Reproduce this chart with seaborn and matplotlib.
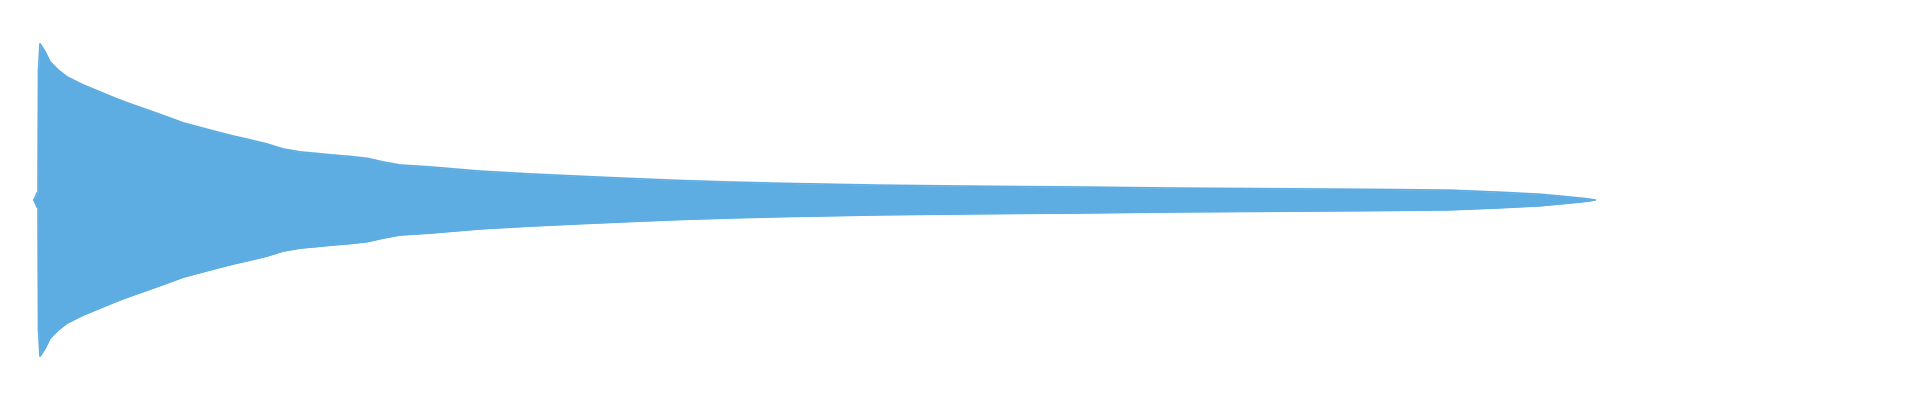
import numpy as np
import pandas as pd
import matplotlib
matplotlib.use("Agg")
import matplotlib.pyplot as plt
import seaborn as sns

# Огинаюча хвильової форми: час, с та амплітуда
time_s = [0.34, 0.37, 0.38, 0.385, 0.40, 0.45, 0.50, 0.58, 0.67, 0.83,
          1.00, 1.17, 1.33, 1.50, 1.67, 1.83, 2.00, 2.17, 2.33, 2.50,
          2.67, 2.83, 3.00, 3.17, 3.33, 3.50, 3.67, 3.83, 4.00, 4.30,
          4.80, 5.30, 5.80, 6.30, 6.80, 7.30, 7.80, 8.30, 8.80, 9.80,
          10.80, 11.80, 12.80, 13.90, 14.50, 15.00, 15.40, 15.67, 15.87, 15.95]
amplitude = [0.0, 0.045, 0.05, 0.83, 1.0, 0.95, 0.885, 0.833, 0.788, 0.737,
             0.692, 0.647, 0.609, 0.571, 0.532, 0.494, 0.465, 0.436, 0.41, 0.385,
             0.359, 0.327, 0.308, 0.298, 0.288, 0.279, 0.267, 0.244, 0.224, 0.212,
             0.185, 0.167, 0.152, 0.138, 0.125, 0.115, 0.107, 0.101, 0.095, 0.088,
             0.083, 0.076, 0.072, 0.067, 0.063, 0.05, 0.037, 0.021, 0.008, 0.0]

df = pd.DataFrame({"time": time_s, "upper": amplitude,
                   "lower": [-a for a in amplitude]})

wave_color = "#5DADE2"

sns.set_style("white")
fig = plt.figure(figsize=(19.2, 4), dpi=100)
ax = fig.add_axes([0, 0, 1, 1])

# Заповнена область між верхньою та нижньою огинаючою
ax.fill_between(df["time"], df["lower"], df["upper"], color=wave_color, linewidth=0)
sns.lineplot(data=df, x="time", y="upper", ax=ax, color=wave_color, linewidth=1.2)
sns.lineplot(data=df, x="time", y="lower", ax=ax, color=wave_color, linewidth=1.2)

# тонка лінія тиші перед початком
ax.plot([0.34, 0.38], [0, 0], color=wave_color, linewidth=1.5)

ax.set_xlim(0, 19.2)
ax.set_ylim(-1.28, 1.28)
ax.axis("off")

fig.savefig("out.png", dpi=100, facecolor="white")
